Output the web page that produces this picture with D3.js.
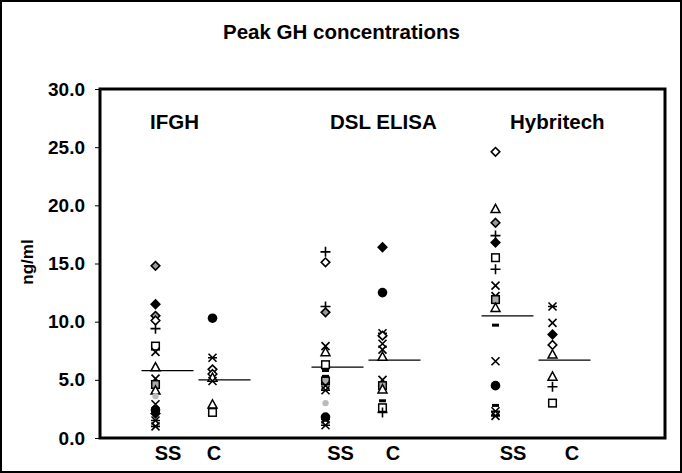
<!doctype html>
<html>
  <head>
    <script src="https://cdn.jsdelivr.net/npm/d3@7/dist/d3.min.js"></script>
    <style>
    body { margin: 0; background: #fff; }
    text { font-family: "Liberation Sans", Arial, sans-serif; font-weight: bold; fill: #000; }
    </style>
  </head>
  <body>
    <svg width="682" height="473"></svg>
    <script>
      // groups (assays) and subjects
      var assays = ["IFGH", "DSL ELISA", "Hybritech"];
      var cohorts = ["SS", "C"];
      var yTicks = [0, 5, 10, 15, 20, 25, 30];

      // peak GH, ng/ml, with the marker used for each subject
      var ifghSS = [[14.8,"diaG"],[11.5,"diaF"],[10.5,"diaG"],[10.1,"dia"],[9.4,"plus"],[7.9,"sq"],[7.4,"x"],
        [6.1,"tri"],[5.1,"x"],[4.6,"sqG"],[4.1,"tri"],[3.6,"dot"],[2.9,"x"],[2.4,"circ"],[2.1,"diaF"],[1.5,"ast"],[1.0,"ast"]];
      var ifghC = [[10.3,"circ"],[6.9,"ast"],[5.9,"dia"],[5.5,"dia"],[5.2,"tri"],[4.9,"x"],[2.9,"tri"],[2.2,"sq"]];
      var dslSS = [[16.0,"plus"],[15.1,"dia"],[11.3,"plus"],[10.8,"diaG"],[7.9,"x"],[7.4,"tri"],[6.3,"sq"],[5.8,"dash"],
        [5.3,"dash"],[4.9,"sqG"],[4.5,"x"],[4.1,"ast"],[3.0,"dot"],[1.8,"circ"],[1.6,"ast"],[1.1,"ast"]];
      var dslC = [[16.4,"diaF"],[12.5,"circ"],[9.0,"ast"],[8.8,"dia"],[8.1,"x"],[7.6,"x"],[7.0,"tri"],[5.0,"x"],
        [4.5,"sqG"],[4.2,"tri"],[3.2,"dash"],[2.6,"sq"],[2.2,"plus"]];
      var hybSS = [[24.6,"dia"],[19.7,"tri"],[18.5,"diaG"],[17.4,"plus"],[16.8,"diaF"],[15.5,"sq"],[14.5,"plus"],[13.1,"x"],
        [12.2,"ast"],[11.9,"sqG"],[11.2,"tri"],[9.7,"dash"],[6.6,"x"],[4.5,"circ"],[2.8,"dash"],[2.3,"ast"],[1.9,"ast"]];
      var hybC = [[11.3,"ast"],[9.9,"x"],[8.9,"diaF"],[8.0,"dia"],[7.2,"tri"],[5.3,"tri"],[4.4,"plus"],[3.0,"sq"]];

      var columns = [
        {assay: "IFGH", cohort: "SS", pts: ifghSS, mean: 5.8},
        {assay: "IFGH", cohort: "C", pts: ifghC, mean: 5.0},
        {assay: "DSL ELISA", cohort: "SS", pts: dslSS, mean: 6.1},
        {assay: "DSL ELISA", cohort: "C", pts: dslC, mean: 6.7},
        {assay: "Hybritech", cohort: "SS", pts: hybSS, mean: 10.5},
        {assay: "Hybritech", cohort: "C", pts: hybC, mean: 6.7}
      ];

      var svg = d3.select("svg");
      var box = {left: 100, top: 89, right: 665, bottom: 438};

      var x0 = d3.scaleBand().domain(assays).range([99, 609]);
      var x1 = d3.scalePoint().domain(cohorts).range([-28.5, 28.5]);
      var titleX = d3.scalePoint().domain(assays).range([150, 510]);
      var labSS = d3.scalePoint().domain(assays).range([168, 513]);
      var labC = d3.scalePoint().domain(assays).range([214, 572]);
      var y = d3.scaleLinear().domain([0, 30]).range([box.bottom, box.top]);

      var cx = d => x0(d.assay) + x0.bandwidth() / 2 + x1(d.cohort);

      // outer frame
      svg.append("rect").attr("x", 1).attr("y", 1).attr("width", 680).attr("height", 471)
        .attr("fill", "none").attr("stroke", "#000").attr("stroke-width", 2);

      svg.append("text").attr("x", 223).attr("y", 39)
        .style("font-size", "20.5px").text("Peak GH concentrations");

      // y axis
      var yAxis = d3.axisLeft(y).tickValues(yTicks).tickFormat(d3.format(".1f")).tickSize(5).tickPadding(10);
      var gy = svg.append("g").attr("transform", `translate(${box.left},0)`).call(yAxis);
      gy.select(".domain").remove();
      gy.selectAll(".tick line").attr("stroke", "#000").attr("stroke-width", 1);
      gy.selectAll(".tick text").style("font-size", "19px").attr("font-family", null);

      svg.append("text").attr("transform", "translate(33,262) rotate(-90)").attr("text-anchor", "middle")
        .style("font-size", "17px").text("ng/ml");

      // plot box
      svg.append("rect").attr("x", box.left).attr("y", box.top)
        .attr("width", box.right - box.left).attr("height", box.bottom - box.top)
        .attr("fill", "none").attr("stroke", "#000").attr("stroke-width", 3);

      // assay titles
      svg.selectAll("text.assay").data(assays).enter().append("text").attr("class", "assay")
        .attr("x", d => titleX(d)).attr("y", 129)
        .style("font-size", "20.5px").text(d => d);

      // cohort labels below axis
      svg.selectAll("text.cohort").data(columns).enter().append("text").attr("class", "cohort")
        .attr("x", d => d.cohort == "SS" ? labSS(d.assay) : labC(d.assay))
        .attr("y", 460).attr("text-anchor", "middle").style("font-size", "20px").text(d => d.cohort);

      // mean lines
      svg.selectAll("line.mean").data(columns).enter().append("line").attr("class", "mean")
        .attr("x1", d => cx(d) - 14).attr("x2", d => cx(d) + 38)
        .attr("y1", d => y(d.mean)).attr("y2", d => y(d.mean))
        .attr("stroke", "#000").attr("stroke-width", 1.3);

      function marker(g, type) {
        var s = 4.3;
        if (type == "dia" || type == "diaF" || type == "diaG") {
          g.append("path").attr("d", `M0,${-s}L${s},0L0,${s}L${-s},0Z`)
            .attr("fill", type == "dia" ? "#fff" : type == "diaF" ? "#000" : "#999")
            .attr("stroke", "#000").attr("stroke-width", 1.6);
        } else if (type == "sq" || type == "sqG") {
          g.append("rect").attr("x", -3.8).attr("y", -3.8).attr("width", 7.6).attr("height", 7.6)
            .attr("fill", type == "sq" ? "#fff" : "#aaa").attr("stroke", "#000").attr("stroke-width", 1.5);
        } else if (type == "tri") {
          g.append("path").attr("d", `M0,-4.5L4.5,3.8L-4.5,3.8Z`)
            .attr("fill", "#fff").attr("stroke", "#000").attr("stroke-width", 1.5);
        } else if (type == "circ") {
          g.append("circle").attr("r", 4.8).attr("fill", "#000");
        } else if (type == "dot") {
          g.append("circle").attr("r", 3.2).attr("fill", "#bbb");
        } else if (type == "plus") {
          g.append("path").attr("d", "M-5,0H5M0,-5V5").attr("stroke", "#000").attr("stroke-width", 1.6);
        } else if (type == "x") {
          g.append("path").attr("d", "M-4,-4L4,4M4,-4L-4,4").attr("stroke", "#000").attr("stroke-width", 1.6);
        } else if (type == "ast") {
          g.append("path").attr("d", "M-4,-4L4,4M4,-4L-4,4M-4.5,0H4.5").attr("stroke", "#000").attr("stroke-width", 1.6);
        } else if (type == "dash") {
          g.append("rect").attr("x", -3.5).attr("y", -1.5).attr("width", 7).attr("height", 3).attr("fill", "#000");
        }
      }

      columns.forEach(col => {
        svg.append("g").selectAll("g").data(col.pts).enter().append("g")
          .attr("transform", d => `translate(${cx(col)},${y(d[0])})`)
          .each(function(d) { marker(d3.select(this), d[1]); });
      });
    </script>
  </body>
</html>
